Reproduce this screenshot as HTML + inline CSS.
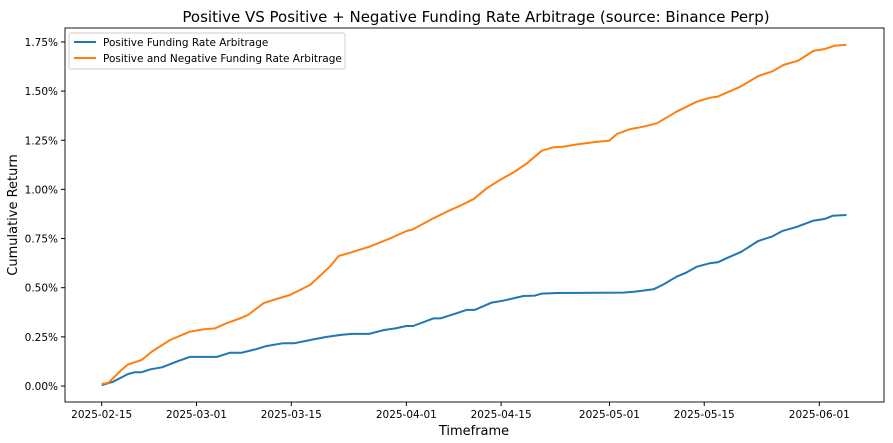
<!DOCTYPE html>
<html><head><meta charset="utf-8"><style>
body{margin:0;background:#fff;}
svg{font-family:"DejaVu Sans","Liberation Sans",sans-serif;}
</style></head><body>
<svg id="chart" width="893" height="438" xmlns="http://www.w3.org/2000/svg">
<rect width="893" height="438" fill="#fff"/>
<text x="476" y="22" text-anchor="middle" font-size="15">Positive VS Positive + Negative Funding Rate Arbitrage (source: Binance Perp)</text>
<g id="grid"></g>
<g id="series"></g>
<rect x="65" y="28" width="819" height="374" fill="none" stroke="#000" stroke-width="0.9"/>
<text transform="translate(17,215) rotate(-90)" text-anchor="middle" font-size="13">Cumulative Return</text>
<text x="474" y="435" text-anchor="middle" font-size="13">Timeframe</text>
<g>
<rect x="69" y="33" width="276" height="36" rx="2" fill="#fff" stroke="#ccc" stroke-width="0.9"/>
<line x1="74" y1="42" x2="96" y2="42" stroke="#1f77b4" stroke-width="2"/>
<text x="103" y="46" font-size="10.5">Positive Funding Rate Arbitrage</text>
<line x1="74" y1="58" x2="96" y2="58" stroke="#ff7f0e" stroke-width="2"/>
<text x="103" y="62" font-size="10.5">Positive and Negative Funding Rate Arbitrage</text>
</g>
</svg>
<script>
const yTicks=[0,0.25,0.5,0.75,1.0,1.25,1.5,1.75];
const yTickLabels=["0.00%","0.25%","0.50%","0.75%","1.00%","1.25%","1.50%","1.75%"];
const xTickDays=[0,14,28,45,59,75,89,106];
const xTickLabels=["2025-02-15","2025-03-01","2025-03-15","2025-04-01","2025-04-15","2025-05-01","2025-05-15","2025-06-01"];
const posDays=[0,1.7,3.9,4.9,5.9,7.2,8.9,11.1,13,17,18.9,20.6,22.8,24.3,26.7,28.4,31.1,33.1,35.5,37,39.5,41.7,43.4,45,46,49,50,52.4,53.9,55.1,57.6,59.3,62.3,64,65,67.3,77,78.8,81.5,83,84.9,86.4,87.9,89.8,91,92.3,94.5,97,99,100.5,102.7,105.1,106.8,108,110];
const posValues=[0.004,0.022,0.061,0.07,0.07,0.085,0.095,0.124,0.148,0.148,0.169,0.169,0.187,0.203,0.217,0.217,0.236,0.249,0.261,0.265,0.265,0.285,0.293,0.305,0.305,0.344,0.344,0.37,0.387,0.387,0.424,0.434,0.458,0.46,0.47,0.473,0.475,0.48,0.492,0.517,0.556,0.578,0.607,0.624,0.629,0.65,0.683,0.738,0.76,0.788,0.81,0.841,0.85,0.866,0.87];
const pnDays=[0,1,2.9,3.9,5.9,7.4,10.1,13,15,16.7,18.4,20.4,21.6,23.9,25.3,27.8,30.8,33.7,35,36.7,39.6,42.6,45,46,49,51,52.9,54.9,56.9,58.8,61,62.8,65,66.7,68.2,70.2,72.6,75,76.1,78,80,82,84.9,87.9,89.8,91,94.3,97,99,100.7,102.9,105.1,106.8,108.3,110];
const pnValues=[0.01,0.017,0.081,0.11,0.132,0.175,0.234,0.276,0.288,0.293,0.319,0.344,0.361,0.421,0.437,0.463,0.514,0.607,0.661,0.678,0.709,0.751,0.788,0.797,0.853,0.887,0.916,0.95,1.006,1.048,1.09,1.133,1.197,1.214,1.217,1.229,1.24,1.248,1.282,1.306,1.319,1.336,1.395,1.446,1.466,1.472,1.522,1.577,1.599,1.633,1.655,1.704,1.714,1.731,1.736];

const NS="http://www.w3.org/2000/svg";
const X0=101.7, PXD=6.77, Y0=386, PXV=196.6;
function xs(d){return X0+d*PXD;}
function ys(v){return Y0-v*PXV;}
const grid=document.getElementById('grid');
yTicks.forEach((v,i)=>{
  const t=document.createElementNS(NS,'line');
  
  
  t.setAttribute('x1',61);t.setAttribute('x2',65);t.setAttribute('y1',ys(v));t.setAttribute('y2',ys(v));
  t.setAttribute('stroke','#000');grid.appendChild(t);
  const l=document.createElementNS(NS,'text');
  
  
  l.setAttribute('x',58);l.setAttribute('y',ys(v)+4);l.setAttribute('text-anchor','end');l.setAttribute('font-size','10.5');
  l.textContent=yTickLabels[i];grid.appendChild(l);
});
xTickDays.forEach((d,i)=>{
  const t=document.createElementNS(NS,'line');
  
  
  t.setAttribute('x1',xs(d));t.setAttribute('x2',xs(d));t.setAttribute('y1',402);t.setAttribute('y2',406);
  t.setAttribute('stroke','#000');grid.appendChild(t);
  const l=document.createElementNS(NS,'text');
  
  
  l.setAttribute('x',xs(d));l.setAttribute('y',418);l.setAttribute('text-anchor','middle');l.setAttribute('font-size','10.5');
  l.textContent=xTickLabels[i];grid.appendChild(l);
});
const ser=document.getElementById('series');
function line(days,vals,color,name){
  const p=document.createElementNS(NS,'polyline');
  
  
  p.setAttribute('points',days.map((d,i)=>xs(d).toFixed(1)+','+ys(vals[i]).toFixed(1)).join(' '));
  p.setAttribute('fill','none');p.setAttribute('stroke',color);p.setAttribute('stroke-width','2');p.setAttribute('stroke-linejoin','round');
  ser.appendChild(p);
}
line(posDays,posValues,'#1f77b4','positive-line');
line(pnDays,pnValues,'#ff7f0e','pos-neg-line');
</script>
</body></html>
